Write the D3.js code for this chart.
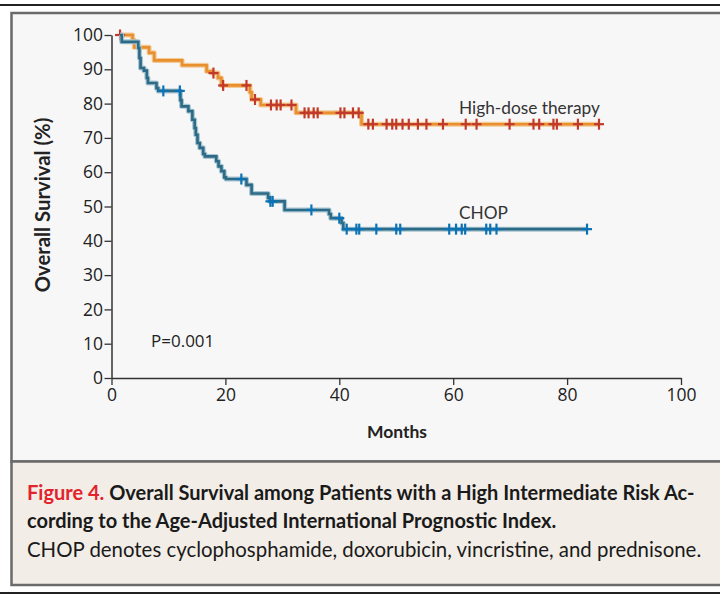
<!DOCTYPE html>
<html lang="en">
  <head>
    <meta charset="utf-8">
    <title>Overall Survival</title>
    <script src="https://d3js.org/d3.v7.js"></script>
    <style>
      body { margin: 0; background: #fff; }
    </style>
  </head>
  <body>
    <script type="text/javascript">

      // High-dose therapy: step points [month, survival %]
      const hdSteps = [
        [1.5, 100], [3.7, 98.5], [4.0, 96.4], [6.6, 94.8], [7.5, 92.6], [12.4, 91.2],
        [16.7, 89.4], [17.6, 88.9], [18.7, 87.5], [19.3, 85.3], [24.3, 83.3], [24.6, 81.2],
        [26.2, 79.6], [32.4, 77.3], [43.9, 74.0], [85.7, 74.0]
      ];
      const hdCensored = [1.5, 17.9, 19.6, 23.7, 25.2, 28.0, 29.0, 29.7, 31.6, 33.9, 34.6,
        35.5, 36.2, 40.2, 40.9, 42.4, 43.4, 45.1, 45.9, 48.3, 49.3, 50.0, 51.1, 52.2, 53.8,
        55.3, 58.2, 62.2, 64.1, 69.9, 74.1, 75.1, 77.6, 78.2, 81.9, 85.6];

      // CHOP: step points [month, survival %]
      const chopSteps = [
        [1.5, 100], [1.8, 98.0], [4.7, 96.2], [4.9, 93.3], [5.1, 90.4], [5.7, 89.6],
        [6.2, 87.5], [6.4, 86.0], [7.9, 84.5], [8.2, 83.7], [12.1, 81.0], [12.3, 79.2],
        [13.5, 77.8], [14.2, 75.3], [14.6, 72.9], [14.8, 70.9], [15.1, 68.5], [15.5, 67.1],
        [16.1, 65.3], [16.4, 64.6], [18.4, 63.2], [18.8, 61.7], [19.3, 60.3], [19.8, 58.5],
        [20.1, 58.0], [23.7, 56.3], [24.6, 53.8], [27.5, 52.5], [27.8, 51.5], [30.4, 49.0],
        [38.2, 47.8], [38.5, 46.6], [40.4, 45.2], [40.7, 43.4], [83.5, 43.4]
      ];
      const chopCensored = [9.1, 12.0, 22.8, 27.9, 28.3, 35.1, 40.0, 41.3, 43.0, 43.5, 46.5,
        50.0, 50.7, 59.3, 60.5, 61.5, 62.1, 65.8, 66.5, 67.6, 83.5];

      const xTicks = [0, 20, 40, 60, 80, 100];
      const yTicks = [0, 10, 20, 30, 40, 50, 60, 70, 80, 90, 100];

      const w = 720;
      const h = 596;

      const xScale = d3.scaleLinear().domain([0, 100]).range([111.5, 681]);
      const yScale = d3.scaleLinear().domain([0, 100]).range([378, 35]);

      const svg = d3.select("body").append("svg")
        .attr("width", w)
        .attr("height", h);

      // frame: top rule, panel, caption box, bottom rule
      svg.append("line")
        .attr("x1", 0).attr("x2", w).attr("y1", 5).attr("y2", 5)
        .attr("stroke", "#222").attr("stroke-width", 2);
      svg.append("rect")
        .attr("x", 11.5).attr("y", 13).attr("width", 720).attr("height", 448.5)
        .attr("fill", "#f7f7f7").attr("stroke", "#6a6a6a").attr("stroke-width", 2.5);
      svg.append("rect")
        .attr("x", 11.5).attr("y", 461.5).attr("width", 720).attr("height", 123.5)
        .attr("fill", "#f2ede7").attr("stroke", "#6a6a6a").attr("stroke-width", 2.5);
      svg.append("line")
        .attr("x1", 0).attr("x2", w).attr("y1", 593).attr("y2", 593)
        .attr("stroke", "#222").attr("stroke-width", 2);

      const plot = svg.append("g").attr("id", "plot");

      function styleAxis(g) {
        g.select(".domain").attr("stroke", "#333").attr("stroke-width", 1.5);
        g.selectAll(".tick line").attr("stroke", "#333").attr("stroke-width", 1.3);
        g.selectAll(".tick text")
          .style("font-family", "'Open Sans', sans-serif")
          .style("font-size", "17.5px")
          .attr("fill", "#222");
      }

      // axes
      plot.append("g")
        .attr("transform", `translate(0, ${yScale(0)})`)
        .call(d3.axisBottom(xScale).tickValues(xTicks).tickSize(7).tickPadding(4).tickSizeOuter(0))
        .call(styleAxis);

      plot.append("g")
        .attr("transform", `translate(${xScale(0)}, 0)`)
        .call(d3.axisLeft(yScale).tickValues(yTicks).tickSize(7).tickPadding(1.5).tickSizeOuter(0))
        .call(styleAxis);

      // curves
      const line = d3.line()
        .x(d => xScale(d[0]))
        .y(d => yScale(d[1]))
        .curve(d3.curveStepAfter);

      function stepValue(steps, t) {
        let v = steps[0][1];
        steps.forEach(s => { if (s[0] <= t) v = s[1]; });
        return v;
      }

      function drawCurve(steps, censored, halo, main, mark) {
        plot.append("path").datum(steps)
          .attr("d", line).attr("fill", "none")
          .attr("stroke", halo).attr("stroke-width", 5).attr("stroke-linejoin", "round");
        plot.append("path").datum(steps)
          .attr("d", line).attr("fill", "none")
          .attr("stroke", main).attr("stroke-width", 2.6);
        const g = plot.append("g");
        censored.forEach(t => {
          const cx = xScale(t), cy = yScale(stepValue(steps, t));
          g.append("line").attr("x1", cx - 5).attr("x2", cx + 5).attr("y1", cy).attr("y2", cy)
            .attr("stroke", mark).attr("stroke-width", 2.2);
          g.append("line").attr("x1", cx).attr("x2", cx).attr("y1", cy - 5.5).attr("y2", cy + 5.5)
            .attr("stroke", mark).attr("stroke-width", 2.2);
        });
      }

      drawCurve(hdSteps, hdCensored, "#f3c996", "#e8902e", "#c0392b");
      drawCurve(chopSteps, chopCensored, "#a9c6d2", "#2c6a86", "#0b72b5");

      // labels
      const lab = "Lato, 'Open Sans', sans-serif";
      plot.append("text").attr("x", 459).attr("y", 114)
        .style("font-family", lab).style("font-size", "17.3px").attr("fill", "#333")
        .text("High-dose therapy");
      plot.append("text").attr("x", 459).attr("y", 219)
        .style("font-family", lab).style("font-size", "17.3px").attr("fill", "#333")
        .text("CHOP");
      plot.append("text").attr("x", 151).attr("y", 347)
        .style("font-family", "'Open Sans', sans-serif").style("font-size", "17px").attr("fill", "#222")
        .text("P=0.001");

      plot.append("text").attr("x", 397).attr("y", 438)
        .attr("text-anchor", "middle")
        .style("font-family", "Lato, sans-serif").style("font-weight", "bold")
        .style("font-size", "17.5px").attr("fill", "#222")
        .text("Months");
      plot.append("text")
        .attr("transform", "translate(50, 205) rotate(-90)")
        .attr("text-anchor", "middle")
        .style("font-family", "Lato, sans-serif").style("font-weight", "bold")
        .style("font-size", "20.3px").attr("fill", "#222")
        .text("Overall Survival (%)");

      // caption
      const cap = svg.append("text").attr("x", 27).attr("y", 500)
        .style("font-family", "Lato, sans-serif").style("font-size", "20px").style("font-weight", "bold")
        .attr("fill", "#1a1a1a");
      cap.append("tspan").attr("fill", "#e3232b").text("Figure 4. ");
      cap.append("tspan").text("Overall Survival among Patients with a High Intermediate Risk Ac-");
      svg.append("text").attr("x", 27).attr("y", 528)
        .style("font-family", "Lato, sans-serif").style("font-size", "20px").style("font-weight", "bold")
        .attr("fill", "#1a1a1a")
        .text("cording to the Age-Adjusted International Prognostic Index.");
      svg.append("text").attr("x", 27).attr("y", 557)
        .style("font-family", "Lato, sans-serif").style("font-size", "20.4px")
        .attr("fill", "#1a1a1a")
        .text("CHOP denotes cyclophosphamide, doxorubicin, vincristine, and prednisone.");

    </script>
  </body>
</html>
